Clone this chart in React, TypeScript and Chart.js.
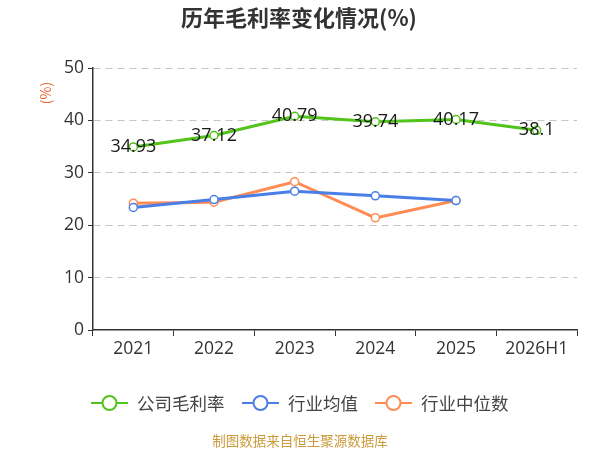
import React, { useEffect, useRef } from "react";
import { Chart, registerables } from "chart.js";

Chart.register(...registerables);

const categories = ["2021", "2022", "2023", "2024", "2025", "2026H1"];
const companyMargin = [34.93, 37.12, 40.79, 39.74, 40.17, 38.1];
const industryAvg = [23.4, 24.9, 26.5, 25.6, 24.7, null];
const industryMedian = [24.2, 24.4, 28.3, 21.4, 24.7, null];
const yTicks = [0, 10, 20, 30, 40, 50];
const seriesNames = ["公司毛利率", "行业均值", "行业中位数"];
const seriesColors = ["#52c41a", "#4a7fe8", "#ff8c55"];
const titleText = "历年毛利率变化情况(%)";
const unitText = "(%)";
const footerText = "制图数据来自恒生聚源数据库";

const FONT = '"Open Sans", "Noto Sans CJK SC", sans-serif';
const CJK = '"Noto Sans CJK SC", sans-serif';

const decorPlugin = {
  id: "decor",
  afterDatasetsDraw(chart: any) {
    const { ctx } = chart;
    const meta = chart.getDatasetMeta(0);
    ctx.save();
    ctx.font = `18px ${FONT}`;
    ctx.fillStyle = "#1a1a1a";
    ctx.textAlign = "center";
    ctx.textBaseline = "middle";
    meta.data.forEach((pt: any, i: number) => {
      const v = companyMargin[i];
      if (v == null) return;
      ctx.fillText(String(v), pt.x, pt.y);
    });
    ctx.restore();
  },
  afterDraw(chart: any) {
    const { ctx } = chart;
    ctx.save();
    ctx.font = `bold 22px ${CJK}`;
    ctx.fillStyle = "#333333";
    ctx.textAlign = "center";
    ctx.textBaseline = "middle";
    ctx.fillText(titleText, 299, 18);
    ctx.save();
    ctx.translate(46, 93);
    ctx.rotate(-Math.PI / 2);
    ctx.font = `14px ${CJK}`;
    ctx.fillStyle = "#e8622c";
    ctx.fillText(unitText, 0, 0);
    ctx.restore();
    const items = [
      { x: 91, name: seriesNames[0], color: seriesColors[0] },
      { x: 242, name: seriesNames[1], color: seriesColors[1] },
      { x: 375, name: seriesNames[2], color: seriesColors[2] },
    ];
    const ly = 403;
    items.forEach((it) => {
      ctx.strokeStyle = it.color;
      ctx.lineWidth = 2;
      ctx.beginPath();
      ctx.moveTo(it.x, ly);
      ctx.lineTo(it.x + 37, ly);
      ctx.stroke();
      ctx.beginPath();
      ctx.arc(it.x + 18.5, ly, 7, 0, Math.PI * 2);
      ctx.fillStyle = "#ffffff";
      ctx.fill();
      ctx.stroke();
      ctx.font = `17.5px ${CJK}`;
      ctx.fillStyle = "#444444";
      ctx.textAlign = "left";
      ctx.textBaseline = "middle";
      ctx.fillText(it.name, it.x + 46, ly);
    });
    ctx.font = `13.5px ${CJK}`;
    ctx.fillStyle = "#cc9a3a";
    ctx.textAlign = "center";
    ctx.fillText(footerText, 300, 441);
    ctx.restore();
  },
};

export default function App() {
  const ref = useRef<HTMLCanvasElement>(null);
  useEffect(() => {
    if (!ref.current) return;
    const mk = (label: string, data: any[], color: string, width: number) => ({
      label,
      data,
      borderColor: color,
      backgroundColor: "#ffffff",
      pointBackgroundColor: "#ffffff",
      pointBorderColor: color,
      pointBorderWidth: 1.5,
      pointRadius: 4,
      borderWidth: width,
      tension: 0,
      spanGaps: false,
    });
    const chart = new Chart(ref.current, {
      type: "line",
      data: {
        labels: categories,
        datasets: [
          mk(seriesNames[0], companyMargin, seriesColors[0], 3),
          mk(seriesNames[1], industryAvg, seriesColors[1], 3),
          mk(seriesNames[2], industryMedian, seriesColors[2], 3),
        ],
      },
      options: {
        animation: false,
        responsive: false,
        devicePixelRatio: 1,
        layout: { padding: { top: 68, right: 23, bottom: 80, left: 0 } },
        plugins: { legend: { display: false }, title: { display: false }, tooltip: { enabled: false } },
        scales: {
          x: {
            type: "category",
            offset: true,
            afterFit: (s: any) => { s.height = 40; },
            grid: {
              drawOnChartArea: false,
              drawTicks: true,
              tickLength: 6,
              tickColor: "#333333",
              offset: true,
            },
            border: { display: true, color: "#333333", width: 1.5 },
            ticks: { color: "#333333", font: { size: 17.5, family: FONT }, padding: 3, maxRotation: 0 },
          },
          y: {
            min: 0,
            max: 50,
            afterFit: (s: any) => { s.width = 93; },
            afterBuildTicks: (s: any) => { s.ticks = yTicks.map((v) => ({ value: v })); },
            grid: {
              color: (c: any) => (c.tick && c.tick.value === 0 ? "rgba(0,0,0,0)" : "#c4c4c4"),
              lineWidth: 1,
              drawTicks: true,
              tickLength: 5,
              tickColor: "#333333",
              tickBorderDash: [],
            },
            border: { display: true, color: "#333333", width: 1.5, dash: [7, 5] },
            ticks: { color: "#333333", font: { size: 17.5, family: FONT }, padding: 4 },
          },
        },
      },
      plugins: [decorPlugin],
    } as any);
    return () => chart.destroy();
  }, []);
  return (
    <div style={{ position: "fixed", left: 0, top: 0, width: 600, height: 450, background: "#fff" }}>
      <canvas ref={ref} width={600} height={450} style={{ width: 600, height: 450 }} />
    </div>
  );
}
